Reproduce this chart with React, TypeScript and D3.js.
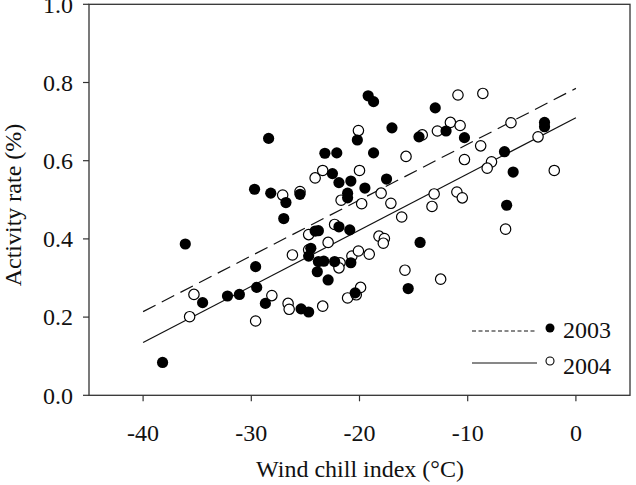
import React from 'react';
import * as d3 from 'd3';

// 2003 (filled) : wind chill index, activity rate
const x2003 = [-38.2, -36.1, -34.5, -32.2, -31.1, -29.6, -29.5, -28.7, -29.7, -28.4, -28.2, -26.8, -27.0, -25.5,
  -25.4, -24.7, -24.5, -24.7, -24.1, -23.8, -23.8, -23.3, -23.9, -22.9, -22.3, -20.8, -20.4, -21.9, -20.9,
  -23.2, -22.1, -22.5, -21.9, -20.8, -21.1, -21.1, -20.2, -19.5, -19.2, -18.7, -18.7, -17.5, -17.0, -14.4,
  -15.5, -14.5, -13.0, -12.0, -10.3, -6.6, -5.8, -6.4, -2.9, -2.9];
const y2003 = [0.084, 0.387, 0.237, 0.254, 0.258, 0.329, 0.276, 0.235, 0.527, 0.657, 0.517, 0.493, 0.452, 0.514,
  0.221, 0.213, 0.376, 0.356, 0.420, 0.421, 0.342, 0.343, 0.316, 0.295, 0.342, 0.339, 0.262, 0.431, 0.423,
  0.619, 0.620, 0.567, 0.544, 0.548, 0.517, 0.505, 0.653, 0.530, 0.766, 0.751, 0.620, 0.553, 0.684, 0.391,
  0.273, 0.661, 0.735, 0.676, 0.659, 0.623, 0.571, 0.486, 0.698, 0.687];

// 2004 (open)
const x2004 = [-35.7, -35.3, -29.6, -28.1, -27.1, -25.5, -26.6, -26.5, -26.2, -24.7, -24.7, -24.1, -23.4, -23.4,
  -22.9, -22.3, -21.8, -21.9, -21.7, -21.1, -20.3, -19.9, -20.7, -20.1, -19.1, -20.1, -20.0, -19.8, -18.0,
  -17.1, -18.2, -17.7, -17.8, -15.7, -16.1, -15.8, -14.2, -13.1, -13.3, -12.5, -12.8, -11.6, -10.7, -10.9,
  -8.6, -11.0, -10.5, -10.3, -8.8, -7.8, -8.2, -6.0, -6.5, -3.5, -2.0];
const y2004 = [0.201, 0.258, 0.190, 0.255, 0.512, 0.521, 0.235, 0.220, 0.359, 0.372, 0.411, 0.556, 0.575, 0.228,
  0.391, 0.437, 0.339, 0.326, 0.499, 0.249, 0.257, 0.276, 0.356, 0.369, 0.361, 0.677, 0.575, 0.490, 0.517,
  0.491, 0.407, 0.401, 0.389, 0.611, 0.456, 0.320, 0.666, 0.515, 0.483, 0.297, 0.676, 0.698, 0.690, 0.768,
  0.772, 0.520, 0.505, 0.603, 0.638, 0.597, 0.581, 0.697, 0.425, 0.661, 0.575];

// regression line end points
const fitX = [-40, 0];
const fit2003 = [0.214, 0.785];
const fit2004 = [0.135, 0.710];

const xTicks = [-40, -30, -20, -10, 0];
const yTicks = [0, 0.2, 0.4, 0.6, 0.8, 1.0];

const W = 636, H = 485;
const left = 89, right = 630, top = 4.3, bottom = 395.3;
const font = '"Liberation Serif", "Times New Roman", serif';
const fs = 24;

export default function App() {
  const x = d3.scaleLinear().domain([-45, 5]).range([left, right]);
  const y = d3.scaleLinear().domain([0, 1]).range([bottom, top]);
  const line = d3.line<number>().x((_, i) => x(fitX[i])).y(d => y(d));

  return (
    <svg width={W} height={H} style={{ position: 'absolute', left: 0, top: 0, background: '#fff' }}>
      {/* fit lines */}
      <path d={line(fit2003) || ''} fill="none" stroke="#111" strokeWidth={1.2} strokeDasharray="14,7" />
      <path d={line(fit2004) || ''} fill="none" stroke="#111" strokeWidth={1.2} />

      {x2004.map((v, i) => (
        <circle key={'o' + i} cx={x(v)} cy={y(y2004[i])} r={5.2} fill="#fff" stroke="#000" strokeWidth={1.2} />
      ))}
      {x2003.map((v, i) => (
        <circle key={'f' + i} cx={x(v)} cy={y(y2003[i])} r={5.6} fill="#000" />
      ))}

      {/* frame */}
      <rect x={left} y={top} width={right - left} height={bottom - top} fill="none" stroke="#333" strokeWidth={1.3} />

      {xTicks.map(t => (
        <g key={'xt' + t}>
          <line x1={x(t)} x2={x(t)} y1={bottom} y2={bottom + 6} stroke="#333" strokeWidth={1.2} />
          <text x={x(t)} y={441} textAnchor="middle" fontFamily={font} fontSize={fs} fill="#111">{t}</text>
        </g>
      ))}
      {yTicks.map(t => (
        <g key={'yt' + t}>
          <line x1={left - 6} x2={left} y1={y(t)} y2={y(t)} stroke="#333" strokeWidth={1.2} />
          <text x={73} y={y(t) + 8.3} textAnchor="end" fontFamily={font} fontSize={fs} fill="#111">{t.toFixed(1)}</text>
        </g>
      ))}

      <text x={360} y={477} textAnchor="middle" fontFamily={font} fontSize={fs} fill="#111">Wind chill index (°C)</text>
      <text transform="translate(21,205) rotate(-90)" textAnchor="middle" fontFamily={font} fontSize={fs} fill="#111">Activity rate (%)</text>

      {/* legend */}
      <line x1={472} x2={537} y1={331} y2={331} stroke="#111" strokeWidth={1} strokeDasharray="4,2.5" />
      <circle cx={550} cy={328} r={4.5} fill="#000" />
      <text x={563} y={338} fontFamily={font} fontSize={fs} fill="#111">2003</text>
      <line x1={472} x2={537} y1={363} y2={363} stroke="#111" strokeWidth={1} />
      <circle cx={550} cy={361} r={4} fill="#fff" stroke="#000" strokeWidth={1.1} />
      <text x={563} y={374} fontFamily={font} fontSize={fs} fill="#111">2004</text>
    </svg>
  );
}
